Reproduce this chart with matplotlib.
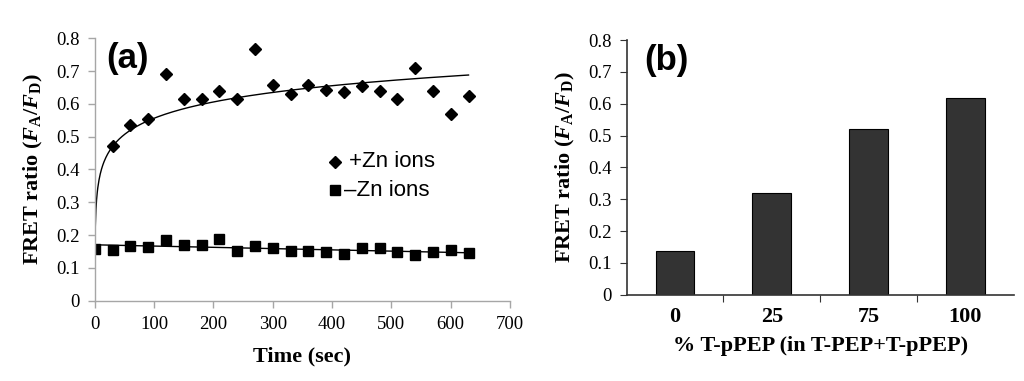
import numpy as np
import matplotlib
matplotlib.use("Agg")
import matplotlib.pyplot as plt

plt.rcParams['mathtext.fontset'] = 'custom'
plt.rcParams['mathtext.rm'] = 'Liberation Serif'
plt.rcParams['mathtext.it'] = 'Liberation Serif:italic'
plt.rcParams['mathtext.bf'] = 'Liberation Serif:bold'
plt.rcParams['mathtext.bfit'] = 'Liberation Serif:bold:italic'

# ---- Data: panel (a)
time_s = [30, 60, 90, 120, 150, 180, 210, 240, 270, 300, 330, 360, 390, 420,
          450, 480, 510, 540, 570, 600, 630]
plus_zn = [0.472, 0.536, 0.554, 0.691, 0.614, 0.614, 0.638, 0.614, 0.767, 0.659,
           0.629, 0.657, 0.643, 0.635, 0.655, 0.640, 0.615, 0.710, 0.639, 0.570, 0.623]
time_minus = [0, 30, 60, 90, 120, 150, 180, 210, 240, 270, 300, 330, 360, 390,
              420, 450, 480, 510, 540, 570, 600, 630]
minus_zn = [0.157, 0.155, 0.168, 0.163, 0.185, 0.170, 0.171, 0.187, 0.152, 0.168,
            0.160, 0.151, 0.151, 0.147, 0.142, 0.160, 0.160, 0.147, 0.138, 0.148,
            0.155, 0.146]
# logarithmic trendline of +Zn (y = a + b ln t)
plus_fit_a = 0.2265
plus_fit_b = 0.0716
plus_fit_range = [1, 630]

# ---- Data: panel (b)
categories = ['0', '25', '75', '100']
fret_b = [0.138, 0.321, 0.521, 0.618]

serif = 'Liberation Serif'
sans = 'Liberation Sans'
ylab = r'FRET ratio ($\mathbfit{F}_{\mathbf{A}}\mathbf{/}\mathbfit{F}_{\mathbf{D}}$)'

fig = plt.figure(figsize=(10.24, 3.81), dpi=100)

# ---------------- Panel (a)
ax = fig.add_axes([0.0925, 0.2108, 0.4056, 0.6887])
t = np.array(time_s, float)
y = np.array(plus_zn, float)
tt = np.linspace(plus_fit_range[0], plus_fit_range[1], 600)
ax.plot(tt, plus_fit_a + plus_fit_b * np.log(tt), color='black', lw=1.0)
tm = np.array(time_minus, float)
ym = np.array(minus_zn, float)
m1, m0 = np.polyfit(tm, ym, 1)
tl = np.linspace(0, 630, 50)
ax.plot(tl, m0 + m1 * tl, color='black', lw=1.0)
ax.plot(t, y, 'D', color='black', ms=5.8, ls='none')
ax.plot(tm, ym, 's', color='black', ms=7, ls='none')

ax.set_xlim(0, 700)
ax.set_ylim(0, 0.8)
ax.set_xticks(np.arange(0, 701, 100))
ax.set_yticks(np.arange(0, 0.81, 0.1))
ax.set_yticklabels(['0'] + ['%.1f' % v for v in np.arange(0.1, 0.81, 0.1)])
for s in ['top', 'right']:
    ax.spines[s].set_visible(False)
for s in ['left', 'bottom']:
    ax.spines[s].set_color('#a6a6a6')
    ax.spines[s].set_linewidth(1.0)
ax.tick_params(direction='out', length=5, color='#a6a6a6', width=1.0,
               labelsize=13.5, pad=6)
for lab in ax.get_xticklabels() + ax.get_yticklabels():
    lab.set_fontfamily(serif)
ax.set_xlabel('Time (sec)', fontfamily=serif, fontweight='bold', fontsize=16, labelpad=10)
ax.set_ylabel(ylab, fontfamily=serif, fontweight='bold', fontsize=16, labelpad=8)
ax.text(0.028, 0.985, '(a)', transform=ax.transAxes, fontfamily=sans,
        fontweight='bold', fontsize=25, va='top', ha='left')

# legend
ax.plot([405], [0.423], 'D', color='black', ms=5.8)
ax.text(428, 0.423, '+Zn ions', fontfamily=sans, fontsize=16, va='center')
ax.plot([405], [0.337], 's', color='black', ms=7)
ax.text(420, 0.337, '\u2013Zn ions', fontfamily=sans, fontsize=16, va='center')

# ---------------- Panel (b)
bx = fig.add_axes([0.612, 0.2265, 0.378, 0.6685])
xpos = np.arange(len(categories))
bx.bar(xpos, fret_b, width=0.4, color='#333333', edgecolor='black', linewidth=0.8)
bx.set_xlim(-0.5, len(categories) - 0.5)
bx.set_ylim(0, 0.8)
bx.set_yticks(np.arange(0, 0.81, 0.1))
bx.set_yticklabels(['0'] + ['%.1f' % v for v in np.arange(0.1, 0.81, 0.1)])
bx.set_xticks(np.arange(0.5, len(categories) - 0.5, 1.0))
bx.set_xticklabels([])
bx.set_xticks(xpos, minor=True)
bx.set_xticklabels(categories, minor=True, fontfamily=serif, fontweight='bold', fontsize=16)
bx.tick_params(axis='x', which='minor', length=0, pad=9)
bx.tick_params(axis='x', which='major', direction='out', length=5, color='#333333')
bx.tick_params(axis='y', direction='out', length=5, color='#333333', labelsize=13.5, pad=6)
for lab in bx.get_yticklabels():
    lab.set_fontfamily(serif)
for s in ['top', 'right']:
    bx.spines[s].set_visible(False)
for s in ['left', 'bottom']:
    bx.spines[s].set_color('#333333')
    bx.spines[s].set_linewidth(1.2)
bx.set_xlabel('% T-pPEP (in T-PEP+T-pPEP)', fontfamily=serif, fontweight='bold',
              fontsize=16, labelpad=6)
bx.set_ylabel(ylab, fontfamily=serif, fontweight='bold', fontsize=16, labelpad=8)
bx.text(0.045, 0.985, '(b)', transform=bx.transAxes, fontfamily=sans,
        fontweight='bold', fontsize=25, va='top', ha='left')

fig.savefig('out.png', dpi=100)
